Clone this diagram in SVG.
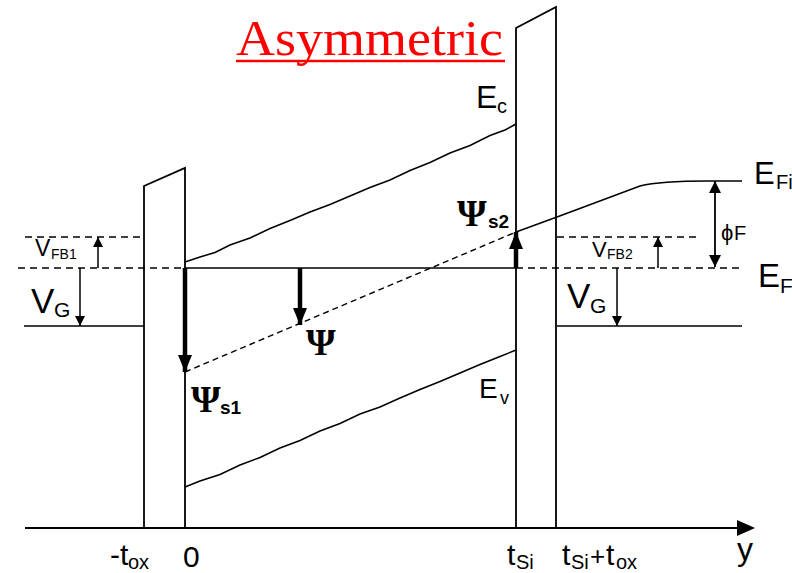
<svg xmlns="http://www.w3.org/2000/svg" width="792" height="573" viewBox="0 0 792 573">
<defs>
<style>
.ln{fill:none;stroke:#000;stroke-width:1.8}
.th{fill:none;stroke:#000;stroke-width:1.5}
.ds{fill:none;stroke:#000;stroke-width:1.6;stroke-dasharray:7 5}
.dp{fill:none;stroke:#000;stroke-width:1.4;stroke-dasharray:6 4}
.s{font-family:"Liberation Sans",Arial,sans-serif;fill:#000}
.psi{font-family:"Liberation Serif","Times New Roman",serif;font-weight:bold;fill:#000}
.b{font-family:"Liberation Sans",Arial,sans-serif;font-weight:bold;fill:#000}
</style>
<marker id="ah" viewBox="0 0 10 10" refX="10" refY="5" markerWidth="10" markerHeight="10" markerUnits="userSpaceOnUse" orient="auto"><path d="M0,0 L10,5 L0,10 Z" fill="#000"/></marker>
<marker id="ahm" viewBox="0 0 12 12" refX="12" refY="6" markerWidth="12" markerHeight="12" markerUnits="userSpaceOnUse" orient="auto-start-reverse"><path d="M0,0 L12,6 L0,12 Z" fill="#000"/></marker>
<marker id="ahb" viewBox="0 0 17 14" refX="17" refY="7" markerWidth="17" markerHeight="14" markerUnits="userSpaceOnUse" orient="auto"><path d="M0,0 L17,7 L0,14 Z" fill="#000"/></marker>
</defs>
<rect width="792" height="573" fill="#fff"/>

<g id="title">
<text x="236" y="55" font-family="'Liberation Serif','Times New Roman',serif" font-size="50" fill="#ff0000" textLength="267" lengthAdjust="spacingAndGlyphs">Asymmetric</text>
<line x1="236" y1="61" x2="505" y2="61" stroke="#ff0000" stroke-width="2.5"/>
</g>

<g id="axis">
<line class="ln" x1="25" y1="528" x2="740" y2="528"/>
<path d="M737,520 L755,528 L737,536 Z" fill="#000"/>
<text class="s" x="737" y="560" font-size="32">y</text>
</g>

<g id="left-oxide">
<path class="ln" d="M144,528 L144,186 L185,168 L185,528"/>
</g>
<g id="right-oxide">
<path class="ln" d="M516,528 L516,28 L556,7 L556,528"/>
</g>

<g id="Ec">
<polyline class="th" points="185,262 200,257 215,252.5 230,245 250,238 270,228.5 290,220.5 310,212 330,204.5 350,196 370,187.5 390,180 410,170.5 430,162.5 450,153 470,145.5 490,135.5 505,130 516,124"/>
<text class="s" x="476" y="108" font-size="32">E</text><text class="s" x="497" y="113" font-size="20">c</text>
</g>

<g id="Ev">
<polyline class="th" points="185,487 200,481 220,474.5 240,465 260,457.5 280,448 300,440.5 320,431 340,423.5 360,414 380,407 400,398 420,389.5 440,381.5 460,373 480,364.5 500,356.5 516,350"/>
<text class="s" x="479" y="398" font-size="28">E</text><text class="s" x="500" y="404" font-size="18">v</text>
</g>

<g id="EF">
<line class="ds" x1="18" y1="268" x2="185" y2="268"/>
<line class="th" x1="185" y1="268" x2="516" y2="268"/>
<line class="ds" x1="516" y1="268" x2="742" y2="268"/>
<text class="s" x="758" y="287" font-size="33">E</text><text class="s" x="780" y="293" font-size="21">F</text>
</g>

<g id="EFi">
<path class="th" d="M516,232 L557,217 L640,186 Q660,181 708,181 L742,181"/>
<text class="s" x="754" y="184" font-size="31">E</text><text class="s" x="776" y="189" font-size="20">Fi</text>
</g>

<g id="psi-line">
<line class="dp" x1="185" y1="372" x2="516" y2="232"/>
</g>

<g id="VFB1">
<line class="ds" x1="25" y1="237" x2="144" y2="237"/>
<text class="s" x="35" y="256" font-size="23">V</text><text class="s" x="51" y="259" font-size="14">FB1</text>
</g>
<g id="VG-left">
<line class="th" x1="24" y1="326" x2="144" y2="326"/>
<text class="s" x="31" y="313" font-size="35">V</text><text class="s" x="54" y="317" font-size="21">G</text>
</g>
<g id="VFB2">
<line class="ds" x1="557" y1="237" x2="700" y2="237"/>
<text class="s" x="592" y="257" font-size="22">V</text><text class="s" x="607" y="259" font-size="14">FB2</text>
</g>
<g id="VG-right">
<line class="th" x1="557" y1="326" x2="742" y2="326"/>
<text class="s" x="567" y="308" font-size="35">V</text><text class="s" x="590" y="313" font-size="21">G</text>
</g>
<g id="phiF">
<text class="s" x="721" y="240" font-size="22">ϕ</text><text class="s" x="734" y="240" font-size="20">F</text>
</g>

<g id="psi-labels">
<text class="psi" x="191" y="412" font-size="38">Ψ</text><text class="b" x="220" y="414" font-size="19">s1</text>
<text class="psi" x="306" y="355" font-size="38">Ψ</text>
<text class="psi" x="457" y="226" font-size="38">Ψ</text><text class="b" x="488" y="228" font-size="19">s2</text>
</g>

<g id="bottom-labels">
<text class="s" x="110" y="565" font-size="30">-t</text><text class="s" x="128" y="569" font-size="20">ox</text>
<text class="s" x="183" y="567" font-size="30">0</text>
<text class="s" x="507" y="565" font-size="30">t</text><text class="s" x="516" y="569" font-size="20">Si</text>
<text class="s" x="562" y="565" font-size="30">t</text><text class="s" x="571" y="569" font-size="20">Si</text><text class="s" x="590" y="565" font-size="26">+</text><text class="s" x="606" y="565" font-size="30">t</text><text class="s" x="616" y="569" font-size="20">ox</text>
</g>

<g id="connectors">
<line stroke="#000" stroke-width="1.5" x1="98" y1="268" x2="98" y2="237" marker-end="url(#ah)"/>
<line stroke="#000" stroke-width="1.5" x1="80" y1="268" x2="80" y2="326" marker-end="url(#ah)"/>
<line stroke="#000" stroke-width="1.5" x1="658" y1="268" x2="658" y2="237" marker-end="url(#ah)"/>
<line stroke="#000" stroke-width="1.5" x1="617" y1="268" x2="617" y2="326" marker-end="url(#ah)"/>
<line stroke="#000" stroke-width="1.8" x1="715" y1="181" x2="715" y2="267" marker-start="url(#ahm)" marker-end="url(#ahm)"/>
<line stroke="#000" stroke-width="4.5" x1="185" y1="268" x2="185" y2="372" marker-end="url(#ahb)"/>
<line stroke="#000" stroke-width="4.5" x1="300" y1="268" x2="300" y2="325" marker-end="url(#ahb)"/>
<line stroke="#000" stroke-width="4.5" x1="516" y1="268" x2="516" y2="232" marker-end="url(#ahb)"/>
</g>
</svg>
